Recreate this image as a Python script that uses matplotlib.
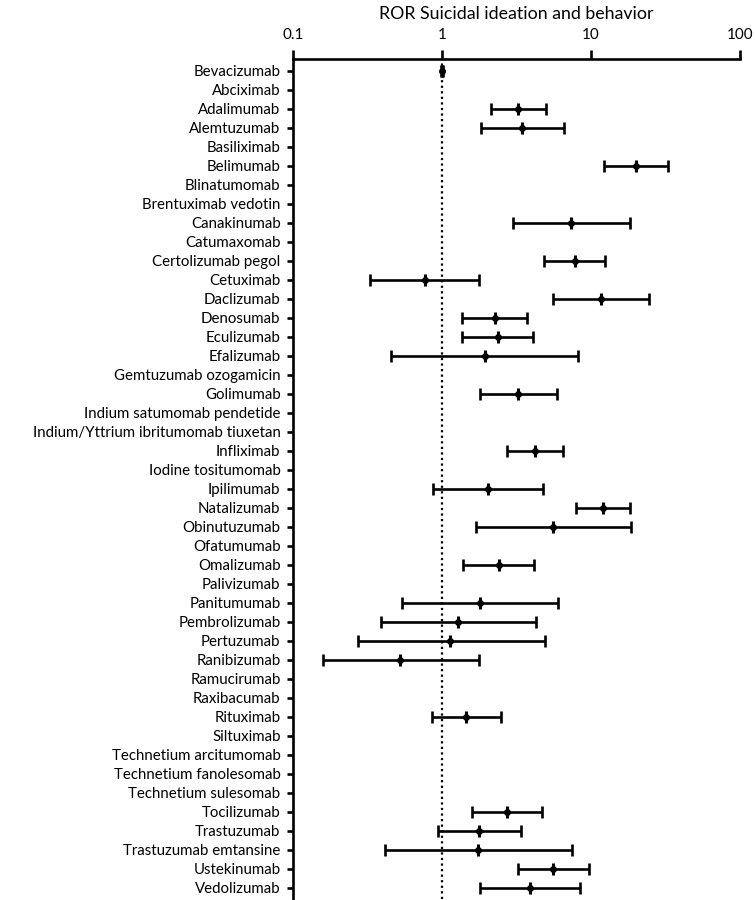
import matplotlib
matplotlib.use("Agg")
import matplotlib.pyplot as plt
import numpy as np

plt.rcParams['font.family'] = ['Lato', 'DejaVu Sans']

drugs = ["Bevacizumab", "Abciximab", "Adalimumab", "Alemtuzumab", "Basiliximab", "Belimumab",
         "Blinatumomab", "Brentuximab vedotin", "Canakinumab", "Catumaxomab", "Certolizumab pegol",
         "Cetuximab", "Daclizumab", "Denosumab", "Eculizumab", "Efalizumab", "Gemtuzumab ozogamicin",
         "Golimumab", "Indium satumomab pendetide", "Indium/Yttrium ibritumomab tiuxetan",
         "Infliximab", "Iodine tositumomab", "Ipilimumab", "Natalizumab", "Obinutuzumab",
         "Ofatumumab", "Omalizumab", "Palivizumab", "Panitumumab", "Pembrolizumab", "Pertuzumab",
         "Ranibizumab", "Ramucirumab", "Raxibacumab", "Rituximab", "Siltuximab",
         "Technetium arcitumomab", "Technetium fanolesomab", "Technetium sulesomab", "Tocilizumab",
         "Trastuzumab", "Trastuzumab emtansine", "Ustekinumab", "Vedolizumab"]

nan = np.nan
ror = [1.0, nan, 3.23, 3.45, nan, 20.2, nan, nan, 7.37, nan, 7.77, 0.765, 11.6, 2.27, 2.37, 1.93,
       nan, 3.26, nan, nan, 4.20, nan, 2.03, 12.0, 5.58, nan, 2.40, nan, 1.79, 1.29, 1.14, 0.525,
       nan, nan, 1.45, nan, nan, nan, nan, 2.71, 1.77, 1.75, 5.58, 3.89]
lower = [0.98, nan, 2.13, 1.82, nan, 12.3, nan, nan, 2.99, nan, 4.85, 0.328, 5.55, 1.37, 1.37, 0.454,
         nan, 1.80, nan, nan, 2.74, nan, 0.87, 7.93, 1.68, nan, 1.38, nan, 0.542, 0.387, 0.271, 0.158,
         nan, nan, 0.857, nan, nan, nan, nan, 1.58, 0.946, 0.412, 3.25, 1.81]
upper = [1.02, nan, 4.96, 6.58, nan, 33.1, nan, nan, 18.2, nan, 12.5, 1.78, 24.5, 3.73, 4.09, 8.22,
         nan, 5.91, nan, nan, 6.48, nan, 4.75, 18.3, 18.6, nan, 4.14, nan, 5.97, 4.29, 4.88, 1.76,
         nan, nan, 2.47, nan, nan, nan, nan, 4.68, 3.38, 7.45, 9.65, 8.47]

title = "ROR Suicidal ideation and behavior"
xticks = [0.1, 1, 10, 100]
xticklabels = ["0.1", "1", "10", "100"]

ror = np.array(ror)
lower = np.array(lower)
upper = np.array(upper)
y = np.arange(len(drugs))

fig = plt.figure(figsize=(7.55, 9.0), dpi=100)
ax = fig.add_axes([293 / 755, 1 - 899 / 900, (740 - 293) / 755, (899 - 59) / 900])

ax.axvline(1, color='black', linestyle=(0, (1, 1.5)), lw=1.6, zorder=1)

mask = ~np.isnan(ror)
ax.errorbar(ror[mask], y[mask],
            xerr=[ror[mask] - lower[mask], upper[mask] - ror[mask]],
            fmt='o', color='black', markersize=4, elinewidth=1.9, capsize=4.5,
            capthick=1.9, zorder=3)
ax.plot(ror[mask], y[mask], linestyle='none', marker='|', markersize=9,
        markeredgewidth=2.2, color='black', zorder=4)

ax.set_xscale('log')
ax.set_xlim(0.1, 100)
ax.set_ylim(len(drugs) - 1 + 0.6, -0.63)
ax.set_yticks(y)
ax.set_yticklabels(drugs, fontsize=10.8)
ax.set_xticks(xticks)
ax.set_xticklabels(xticklabels, fontsize=11)
ax.xaxis.set_minor_locator(matplotlib.ticker.NullLocator())
ax.xaxis.tick_top()
ax.xaxis.set_label_position('top')
ax.set_xlabel(title, fontsize=12.8, labelpad=7)

for s in ['right', 'bottom']:
    ax.spines[s].set_visible(False)
for s in ['left', 'top']:
    ax.spines[s].set_linewidth(1.9)

ax.tick_params(axis='y', length=4, width=1.9, pad=5)
ax.tick_params(axis='x', length=6.5, width=1.9, pad=5.5, direction='out')

fig.savefig("out.png", dpi=100)
